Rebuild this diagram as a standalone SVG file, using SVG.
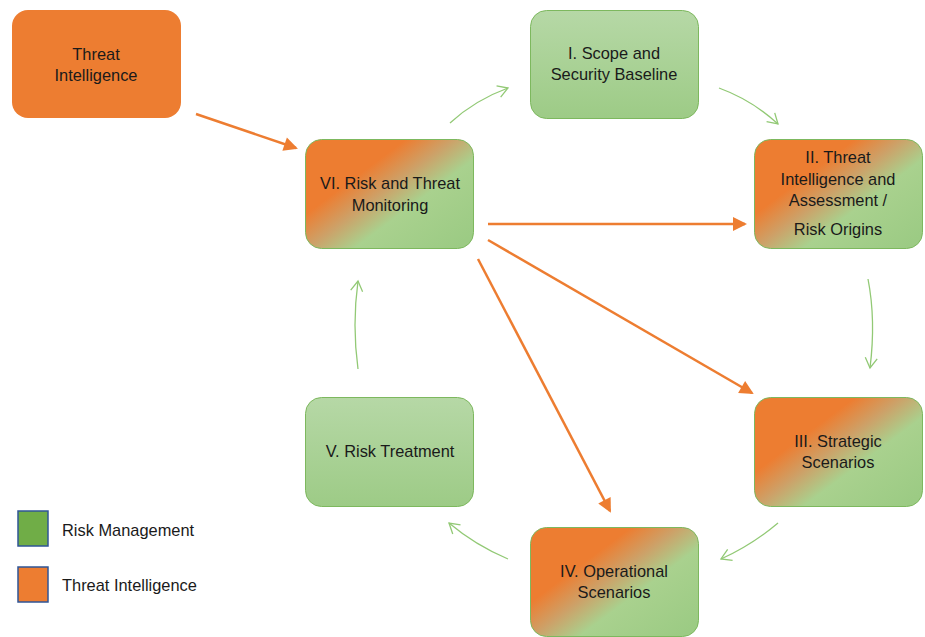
<svg xmlns="http://www.w3.org/2000/svg" width="925" height="637" viewBox="0 0 925 637">
  <style>
    .lbl { font-family: "Liberation Sans", Arial, sans-serif; font-size: 16.4px; fill: #1a1a1a; text-anchor: middle; }
    .leg { font-family: "Liberation Sans", Arial, sans-serif; font-size: 16.4px; fill: #1a1a1a; }
    .box { stroke: #7DB85E; stroke-width: 1; }
    .ti { fill: #ED7D31; }
    .rm { fill: url(#gGreen); }
    .mix { fill: url(#gMix); }
    .orange { stroke: #ED7D31; stroke-width: 2.5; fill: none; marker-end: url(#headOrange); }
    .cycle { stroke: #92C975; stroke-width: 1.3; fill: none; marker-end: url(#headGreen); }
  </style>
  <defs>
    <linearGradient id="gGreen" x1="0" y1="0" x2="0" y2="1">
      <stop offset="0" stop-color="#B6D8A6"/>
      <stop offset="1" stop-color="#9DCB86"/>
    </linearGradient>
    <!-- diagonal blend: threat intelligence (orange) into risk management (green) -->
    <linearGradient id="gMix" x1="0" y1="0" x2="1" y2="0.87">
      <stop offset="0" stop-color="#ED7D31"/>
      <stop offset="0.34" stop-color="#ED7D31"/>
      <stop offset="0.5" stop-color="#CDA168"/>
      <stop offset="0.66" stop-color="#A9D18E"/>
      <stop offset="1" stop-color="#9CCB84"/>
    </linearGradient>
    <marker id="headOrange" markerWidth="8" markerHeight="8" viewBox="0 0 8 8" refX="6" refY="4" orient="auto" markerUnits="userSpaceOnUse" overflow="visible">
      <path d="M-6,-3 L8,4 L-6,11 Z" fill="#ED7D31"/>
    </marker>
    <marker id="headGreen" markerWidth="12" markerHeight="12" viewBox="0 0 12 12" refX="11" refY="6" orient="auto" markerUnits="userSpaceOnUse" overflow="visible">
      <path d="M1,0 L11,6 L1,12" fill="none" stroke="#92C975" stroke-width="1.3"/>
    </marker>
  </defs>

  <!-- connectors -->
  <g id="connectors">
    <path class="orange" d="M196,114 L296,148"/>
    <path class="orange" d="M488,224 L745,224"/>
    <path class="orange" d="M488,240 L752,393"/>
    <path class="orange" d="M478,259 L610,511"/>
    <path class="cycle" d="M450,123 Q475,100 508,88"/>
    <path class="cycle" d="M719,88 Q752,100 778,124"/>
    <path class="cycle" d="M868,279 Q876,320 870,368"/>
    <path class="cycle" d="M778,523 Q752,545 721,559"/>
    <path class="cycle" d="M508,559 Q475,545 449,523"/>
    <path class="cycle" d="M358,369 Q352,325 358,281"/>
  </g>

  <g id="threat-intelligence">
    <rect class="ti" x="12" y="10" width="169" height="108" rx="16"/>
    <text class="lbl" x="96" y="60">Threat</text>
    <text class="lbl" x="96" y="81">Intelligence</text>
  </g>

  <g id="scope">
    <rect class="box rm" x="530.5" y="10.5" width="168" height="108" rx="16"/>
    <text class="lbl" x="614" y="59">I. Scope and</text>
    <text class="lbl" x="614" y="80">Security Baseline</text>
  </g>

  <g id="monitoring">
    <rect class="box mix" x="305.5" y="139.5" width="168" height="109" rx="16"/>
    <text class="lbl" x="390" y="189">VI. Risk and Threat</text>
    <text class="lbl" x="390" y="211">Monitoring</text>
  </g>

  <g id="assessment">
    <rect class="box mix" x="754.5" y="139.5" width="168" height="109" rx="16"/>
    <text class="lbl" x="838" y="163">II. Threat</text>
    <text class="lbl" x="838" y="185">Intelligence and</text>
    <text class="lbl" x="838" y="206">Assessment /</text>
    <text class="lbl" x="838" y="235">Risk Origins</text>
  </g>

  <g id="strategic">
    <rect class="box mix" x="754.5" y="397.5" width="168" height="109" rx="16"/>
    <text class="lbl" x="838" y="447">III. Strategic</text>
    <text class="lbl" x="838" y="468">Scenarios</text>
  </g>

  <g id="treatment">
    <rect class="box rm" x="305.5" y="397.5" width="168" height="109" rx="16"/>
    <text class="lbl" x="390" y="457">V. Risk Treatment</text>
  </g>

  <g id="operational">
    <rect class="box mix" x="530.5" y="527.5" width="168" height="109" rx="16"/>
    <text class="lbl" x="614" y="577">IV. Operational</text>
    <text class="lbl" x="614" y="598">Scenarios</text>
  </g>

  <g id="legend">
    <rect x="18" y="511" width="30" height="35" fill="#70AD47" stroke="#2F5597" stroke-width="1.5"/>
    <text class="leg" x="62" y="536">Risk Management</text>
    <rect x="18" y="567" width="30" height="35" fill="#ED7D31" stroke="#2F5597" stroke-width="1.5"/>
    <text class="leg" x="62" y="591">Threat Intelligence</text>
  </g>
</svg>
